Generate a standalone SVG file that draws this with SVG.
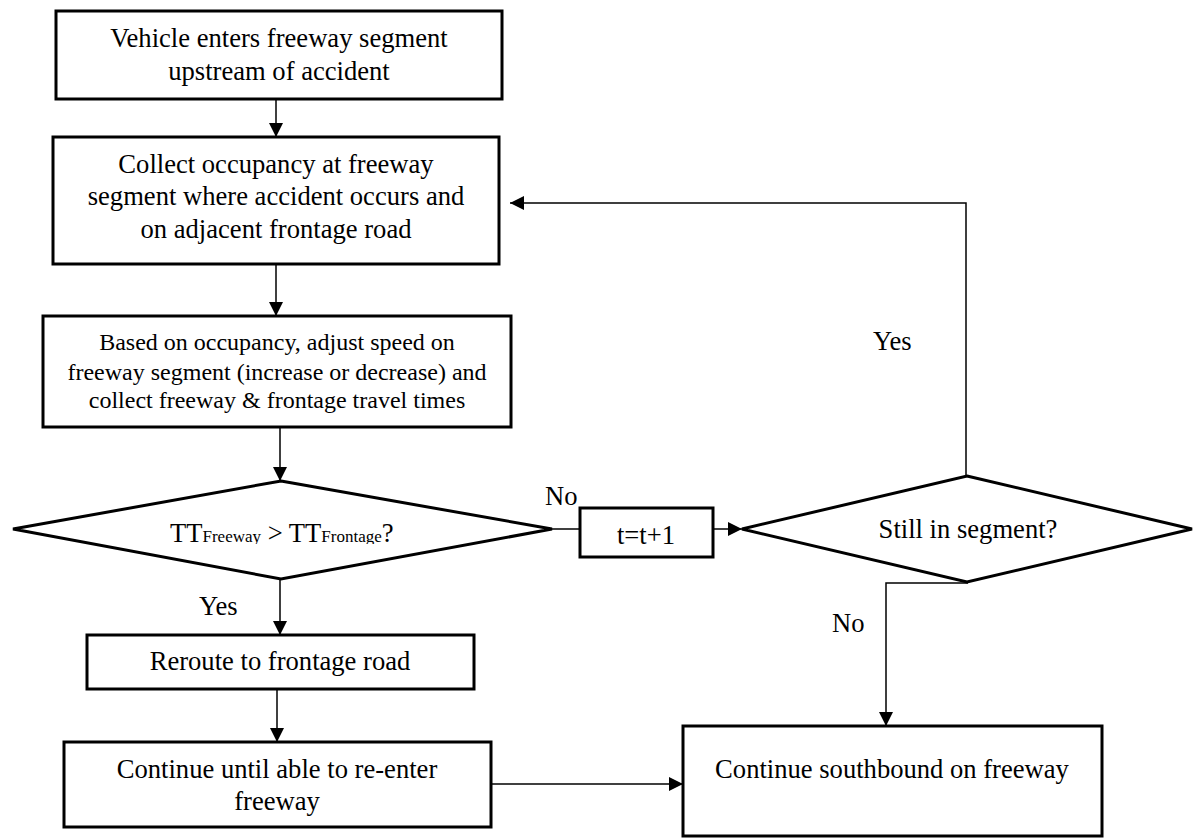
<svg xmlns="http://www.w3.org/2000/svg" width="1199" height="838" viewBox="0 0 1199 838" font-family="Liberation Serif, DejaVu Serif, serif">
<style>
.box{fill:#fff;stroke:#000;stroke-width:3}
.t{font-family:'Liberation Serif','DejaVu Serif',serif;font-size:26.6px;fill:#000;text-anchor:middle}
.s{font-size:24px}
.lbl{font-family:'Liberation Serif','DejaVu Serif',serif;font-size:26.6px;fill:#000}
.c{fill:none;stroke:#000;stroke-width:1.5}
</style>
<defs>
<marker id="ah" markerUnits="userSpaceOnUse" markerWidth="14" markerHeight="14" refX="14" refY="7" orient="auto">
<path d="M0,0 L14,7 L0,14 z" fill="#000"/>
</marker>
<clipPath id="dclip"><rect x="0" y="490" width="600" height="54"/></clipPath>
</defs>
<rect width="1199" height="838" fill="#fff"/>
<g id="connectors">
<line class="c" x1="276" y1="99" x2="276" y2="137" marker-end="url(#ah)"/>
<line class="c" x1="276" y1="264" x2="276" y2="316" marker-end="url(#ah)"/>
<line class="c" x1="280" y1="427" x2="280" y2="481" marker-end="url(#ah)"/>
<line class="c" x1="280" y1="579" x2="280" y2="635" marker-end="url(#ah)"/>
<line class="c" x1="277" y1="689" x2="277" y2="742" marker-end="url(#ah)"/>
<line class="c" x1="491" y1="784" x2="683" y2="784" marker-end="url(#ah)"/>
<polyline class="c" points="966,476 966,203 510,203" marker-end="url(#ah)"/>
<line class="c" x1="552" y1="529" x2="580" y2="529"/>
<line class="c" x1="713" y1="529" x2="742" y2="529" marker-end="url(#ah)"/>
<polyline class="c" points="968,583 886,583 886,726" marker-end="url(#ah)"/>
</g>
<g id="n1">
<rect class="box" x="56" y="11" width="446" height="88"/>
<text class="t" x="279" y="47">Vehicle enters freeway segment</text>
<text class="t" x="279" y="80">upstream of accident</text>
</g>
<g id="n2">
<rect class="box" x="53" y="137" width="446" height="127"/>
<text class="t" x="276" y="173">Collect occupancy at freeway</text>
<text class="t" x="276" y="205">segment where accident occurs and</text>
<text class="t" x="276" y="238">on adjacent frontage road</text>
</g>
<g id="n3">
<rect class="box" x="43" y="316" width="468" height="111"/>
<text class="t s" x="277" y="350">Based on occupancy, adjust speed on</text>
<text class="t s" x="277" y="380">freeway segment (increase or decrease) and</text>
<text class="t s" x="277" y="408">collect freeway &amp; frontage travel times</text>
</g>
<g id="d1">
<polygon class="box" points="281,481 552,529 281,579 13,529"/>
<text class="lbl" x="170" y="542" clip-path="url(#dclip)">TT<tspan font-size="17">Freeway</tspan> &gt; TT<tspan font-size="17">Frontage</tspan>?</text>
</g>
<g id="n4">
<rect class="box" x="580" y="508" width="133" height="49"/>
<text class="t" x="646" y="544">t=t+1</text>
</g>
<g id="d2">
<polygon class="box" points="967,476 1192,529 967,582 742,529"/>
<text class="t" x="968" y="538">Still in segment?</text>
</g>
<g id="n5">
<rect class="box" x="87" y="635" width="387" height="54"/>
<text class="t" x="280" y="670">Reroute to frontage road</text>
</g>
<g id="n6">
<rect class="box" x="64" y="742" width="427" height="85"/>
<text class="t" x="277" y="778">Continue until able to re-enter</text>
<text class="t" x="277" y="810">freeway</text>
</g>
<g id="n7">
<rect class="box" x="683" y="726" width="419" height="110"/>
<text class="t" x="892" y="778">Continue southbound on freeway</text>
</g>
<g id="labels">
<text class="lbl" x="545" y="505">No</text>
<text class="lbl" x="873" y="350">Yes</text>
<text class="lbl" x="199" y="615">Yes</text>
<text class="lbl" x="832" y="632">No</text>
</g>
</svg>
